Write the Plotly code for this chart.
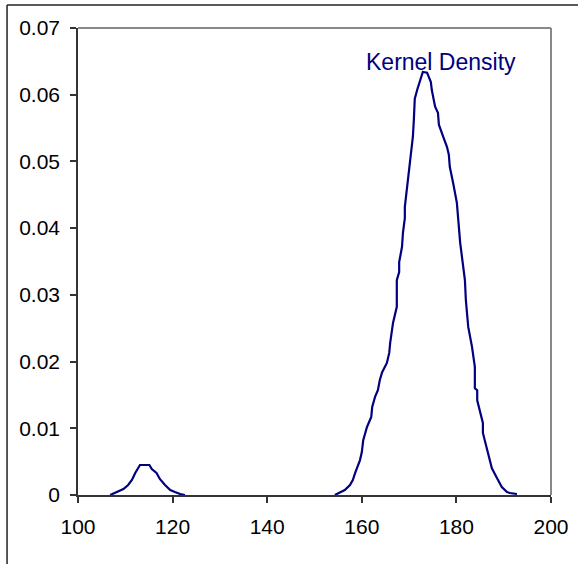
import plotly.graph_objects as go

# Kernel density estimate (value, density); None breaks the line where it lies on the axis
x_values = [106.8, 107.8, 108.9, 109.6, 110.6, 111.4, 112.1, 113.1, 115.1, 115.6, 116.6, 117.3,
            118.4, 119.5, 120.5, 121.6, 122.6,
            None,
            154.3, 155.4, 156.4, 157.5, 158.1, 158.6, 159.6, 160.0, 160.3, 161.1, 162.0, 162.2,
            162.8, 163.4, 163.8, 164.3, 165.3, 165.8, 166.0, 166.6, 167.0, 167.4, 167.4, 167.9,
            167.9, 168.5, 168.7, 169.1, 169.1, 169.6, 170.2, 170.8, 171.0, 171.2, 171.7, 172.3,
            172.9, 173.8, 174.2, 174.6, 174.8, 175.3, 175.5, 176.1, 176.3, 177.2, 178.0, 178.4,
            178.6, 179.3, 180.1, 180.8, 181.4, 181.8, 182.0, 182.5, 183.3, 183.7, 183.9, 183.9,
            184.4, 184.4, 185.0, 185.6, 185.6, 186.5, 187.1, 187.5, 188.6, 189.6, 190.7, 191.3,
            192.8]
density = [0.0, 0.00034, 0.00075, 0.0009, 0.0015, 0.00225, 0.0033, 0.0045, 0.0045, 0.0039, 0.0033, 0.0024,
           0.0015, 0.00075, 0.00045, 0.00015, 0.0,
           None,
           0.0, 0.00045, 0.00075, 0.0015, 0.00225, 0.0033, 0.0052, 0.0064, 0.0082, 0.0102, 0.0117, 0.0132,
           0.0147, 0.0157, 0.0172, 0.0184, 0.0198, 0.0213, 0.0228, 0.0258, 0.0273, 0.0282, 0.0322, 0.0334,
           0.0349, 0.0372, 0.0393, 0.0415, 0.0432, 0.0462, 0.0502, 0.0537, 0.0562, 0.0594, 0.0607, 0.0622,
           0.0634, 0.0633, 0.0625, 0.0619, 0.0607, 0.0592, 0.0582, 0.0573, 0.0555, 0.0537, 0.0522, 0.0510,
           0.0492, 0.0468, 0.0438, 0.0378, 0.0342, 0.0322, 0.0292, 0.0252, 0.0222, 0.0198, 0.0192, 0.0160,
           0.0157, 0.0142, 0.0127, 0.0108, 0.0093, 0.0067, 0.0048, 0.0040, 0.0025, 0.0012, 0.00045, 0.0003,
           0.00015]

x_ticks = [100, 120, 140, 160, 180, 200]
y_ticks = [0, 0.01, 0.02, 0.03, 0.04, 0.05, 0.06, 0.07]
y_tick_labels = ["0", "0.01", "0.02", "0.03", "0.04", "0.05", "0.06", "0.07"]
series_label = "Kernel Density"

NAVY = "#000080"
FONT = "Arial, Liberation Sans, sans-serif"

fig = go.Figure()
fig.add_trace(go.Scatter(x=x_values, y=density, mode="lines",
                         line=dict(color=NAVY, width=2.2), connectgaps=False,
                         showlegend=False, hoverinfo="skip"))

fig.add_annotation(x=176.7, y=0.0649, xref="x", yref="y", text=series_label,
                   showarrow=False, font=dict(family=FONT, size=23, color=NAVY))

# plot-area border (top/right, grey)
fig.add_shape(type="line", xref="paper", yref="paper", x0=0, x1=1, y0=1, y1=1,
              line=dict(color="#888888", width=2))
fig.add_shape(type="line", xref="paper", yref="paper", x0=1, x1=1, y0=0, y1=1,
              line=dict(color="#888888", width=2))
# outer chart frame (top and left visible)
fig.add_shape(type="line", xref="paper", yref="paper", x0=-0.150, x1=1.06, y0=1.049, y1=1.049,
              line=dict(color="#222222", width=1.5))
fig.add_shape(type="line", xref="paper", yref="paper", x0=-0.150, x1=-0.150, y0=-0.15, y1=1.049,
              line=dict(color="#222222", width=1.5))

fig.update_layout(
    width=578, height=564,
    margin=dict(l=78, r=27, t=28, b=69, autoexpand=False),
    paper_bgcolor="white", plot_bgcolor="white",
    font=dict(family=FONT, size=21, color="black"),
    xaxis=dict(range=[100, 200], tickvals=x_ticks, ticktext=[str(v) for v in x_ticks],
               showgrid=False, zeroline=False, showline=True, linecolor="#333333", linewidth=1.5,
               ticks="outside", ticklen=6, tickcolor="#333333", tickwidth=1.5,
               ticklabelstandoff=6, automargin=False),
    yaxis=dict(range=[0, 0.07], tickvals=y_ticks, ticktext=y_tick_labels,
               showgrid=False, zeroline=False, showline=True, linecolor="#333333", linewidth=1.5,
               ticks="outside", ticklen=6, tickcolor="#333333", tickwidth=1.5,
               ticklabelstandoff=6, automargin=False),
)

fig.write_html("out.html")
